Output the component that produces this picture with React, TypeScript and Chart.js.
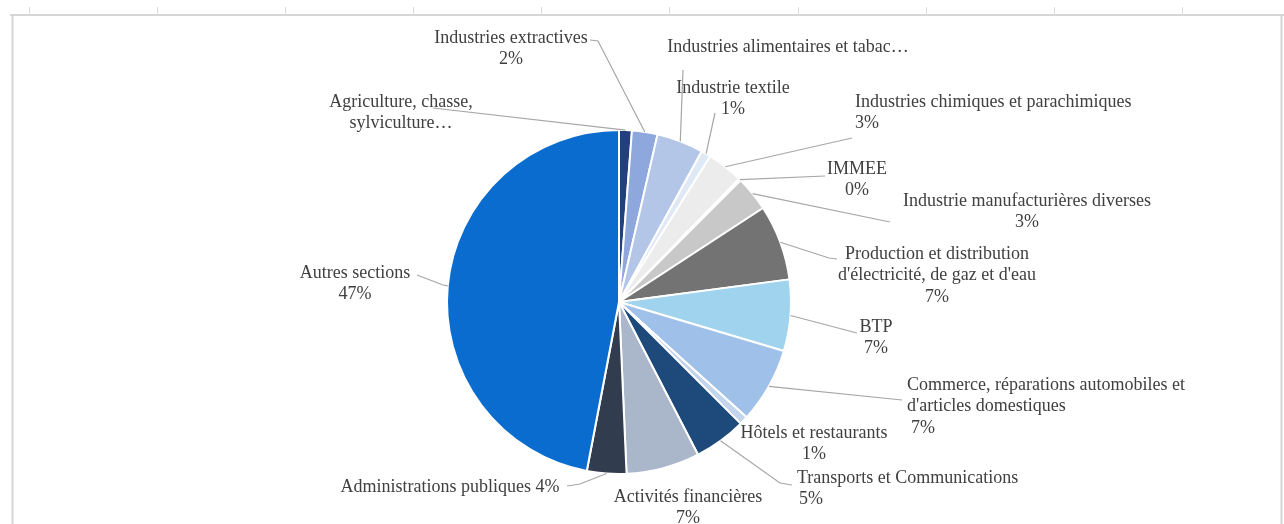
import React, { useEffect, useRef } from "react";
import { Chart, registerables } from "chart.js";

Chart.register(...registerables);

// ---------- data ----------
const categories: string[] = [
  "Agriculture, chasse, sylviculture…",
  "Industries extractives",
  "Industries alimentaires et tabac…",
  "Industrie textile",
  "Industries chimiques et parachimiques",
  "IMMEE",
  "Industrie manufacturières diverses",
  "Production et distribution d'électricité, de gaz et d'eau",
  "BTP",
  "Commerce, réparations automobiles et d'articles domestiques",
  "Hôtels et restaurants",
  "Transports et Communications",
  "Activités financières",
  "Administrations publiques",
  "Autres sections",
];

const values: number[] = [1.2, 2.4, 4.4, 0.9, 3.4, 0.2, 3.3, 7.1, 6.7, 7.1, 0.8, 4.9, 6.9, 3.7, 47.0];

// label text as displayed (line breaks as in the picture)
const labelLines: string[][] = [
  ["Agriculture, chasse,", "sylviculture…"],
  ["Industries extractives"],
  ["Industries alimentaires et tabac…"],
  ["Industrie textile"],
  ["Industries chimiques et parachimiques"],
  ["IMMEE"],
  ["Industrie manufacturières diverses"],
  ["Production et distribution", "d'électricité, de gaz et d'eau"],
  ["BTP"],
  ["Commerce, réparations automobiles et", "d'articles domestiques"],
  ["Hôtels et restaurants"],
  ["Transports et Communications"],
  ["Activités financières"],
  ["Administrations publiques"],
  ["Autres sections"],
];

// how the percentage is shown: "line" = own line, "inline" = same line, "none"
const percentMode: string[] = [
  "none", "line", "none", "line", "line", "line", "line", "line",
  "line", "line", "line", "line", "line", "inline", "line",
];

const sliceColors: string[] = [
  "#243f7c", "#8ea7dc", "#b3c6e8", "#dfe8f5", "#ececec", "#dcdcdc",
  "#c8c8c8", "#737373", "#9fd3ee", "#9fc0e8", "#c3d5ec", "#1d4a7a",
  "#aab6ca", "#313c4f", "#0a6ccf",
];

// ---------- layout (offsets from pie centre, px) ----------
type Layout = { dx: number; dy: number; align: "center" | "left"; leader: number[][]; indent?: number };
const LABEL_LAYOUT: Layout[] = [
  { dx: -218, dy: -200, align: "center", leader: [[-186, -194]] },
  { dx: -108, dy: -264, align: "center", leader: [[-21, -261], [-29, -262]] },
  { dx: 169, dy: -255, align: "center", leader: [[64, -232]] },
  { dx: 114, dy: -214, align: "center", leader: [[96, -189]] },
  { dx: 236, dy: -200, align: "left", leader: [[233, -164]] },
  { dx: 238, dy: -133, align: "center", leader: [[206, -126]] },
  { dx: 408, dy: -101, align: "center", leader: [[271, -80]] },
  { dx: 318, dy: -48, align: "center", leader: [[210, -44], [218, -43]] },
  { dx: 257, dy: 25, align: "center", leader: [[238, 31]] },
  { dx: 288, dy: 83, align: "left", leader: [[283, 98]], indent: 4 },
  { dx: 195, dy: 131, align: "center", leader: [] },
  { dx: 178, dy: 176, align: "left", leader: [[161, 181], [173, 183]], indent: 2 },
  { dx: 69, dy: 195, align: "center", leader: [] },
  { dx: -169, dy: 185, align: "center", leader: [[-39, 182], [-52, 184]] },
  { dx: -264, dy: -29, align: "center", leader: [[-176, -17], [-202, -27]] },
];

const FONT = '18px "Liberation Serif", "Times New Roman", serif';
const LINE_H = 21.5;
const TEXT_COLOR = "#404040";
const LEADER_COLOR = "#a6a6a6";

const backgroundPlugin = {
  id: "sheetBackground",
  beforeDraw(chart: any) {
    const ctx = chart.ctx;
    const w = chart.width;
    const h = chart.height;
    ctx.save();
    ctx.fillStyle = "#ffffff";
    ctx.fillRect(0, 0, w, h);
    ctx.strokeStyle = "#d6d6d6";
    ctx.lineWidth = 2;
    ctx.beginPath();
    ctx.moveTo(10, 15);
    ctx.lineTo(w, 15);
    ctx.moveTo(12.5, 15);
    ctx.lineTo(12.5, h);
    ctx.moveTo(w - 2.5, 15);
    ctx.lineTo(w - 2.5, h);
    ctx.stroke();
    ctx.lineWidth = 1;
    ctx.strokeStyle = "#dcdcdc";
    ctx.beginPath();
    const ticks = [29, 157, 285, 413, 541, 669, 798, 926, 1054, 1182];
    ticks.forEach((tx) => {
      ctx.moveTo(tx + 0.5, 7);
      ctx.lineTo(tx + 0.5, 15);
    });
    ctx.stroke();
    ctx.restore();
  },
};

const labelPlugin = {
  id: "excelLabels",
  afterDatasetsDraw(chart: any) {
    const ctx = chart.ctx;
    const meta = chart.getDatasetMeta(0);
    const data: number[] = chart.data.datasets[0].data;
    const total = data.reduce((a, b) => a + b, 0);
    ctx.save();
    ctx.font = FONT;
    ctx.textBaseline = "middle";
    meta.data.forEach((arc: any, i: number) => {
      const p = arc.getProps(["x", "y", "startAngle", "endAngle", "outerRadius"], true);
      const mid = (p.startAngle + p.endAngle) / 2;
      const rx = p.x + Math.cos(mid) * p.outerRadius;
      const ry = p.y + Math.sin(mid) * p.outerRadius;
      const L = LABEL_LAYOUT[i];
      if (L.leader.length) {
        ctx.strokeStyle = LEADER_COLOR;
        ctx.lineWidth = 1.2;
        ctx.beginPath();
        ctx.moveTo(rx, ry);
        L.leader.forEach(([dx, dy]) => ctx.lineTo(p.x + dx, p.y + dy));
        ctx.stroke();
      }
      const pct = Math.round((data[i] / total) * 100) + "%";
      let lines = labelLines[i].slice();
      if (percentMode[i] === "line") lines.push(pct);
      else if (percentMode[i] === "inline") lines[lines.length - 1] += " " + pct;
      ctx.fillStyle = TEXT_COLOR;
      ctx.textAlign = L.align;
      lines.forEach((t, k) => {
        const isPct = percentMode[i] === "line" && k === lines.length - 1;
        const xOff = L.align === "left" && isPct ? L.indent || 0 : 0;
        ctx.fillText(t, p.x + L.dx + xOff, p.y + L.dy + k * LINE_H);
      });
    });
    ctx.restore();
  },
};

export default function App() {
  const ref = useRef<HTMLCanvasElement | null>(null);
  useEffect(() => {
    if (!ref.current) return;
    const chart = new Chart(ref.current, {
      type: "pie",
      data: {
        labels: categories,
        datasets: [
          {
            data: values,
            backgroundColor: sliceColors,
            borderColor: "#ffffff",
            borderWidth: 2,
          },
        ],
      },
      options: {
        responsive: false,
        animation: false,
        layout: { padding: { top: 129, bottom: 49, left: 446, right: 492 } },
        plugins: {
          legend: { display: false },
          tooltip: { enabled: false },
        },
      },
      plugins: [backgroundPlugin, labelPlugin],
    });
    return () => chart.destroy();
  }, []);
  return (
    <div style={{ position: "absolute", left: 0, top: 0, width: 1284, height: 524, background: "#fff" }}>
      <canvas ref={ref} width={1284} height={524} style={{ display: "block" }} />
    </div>
  );
}
